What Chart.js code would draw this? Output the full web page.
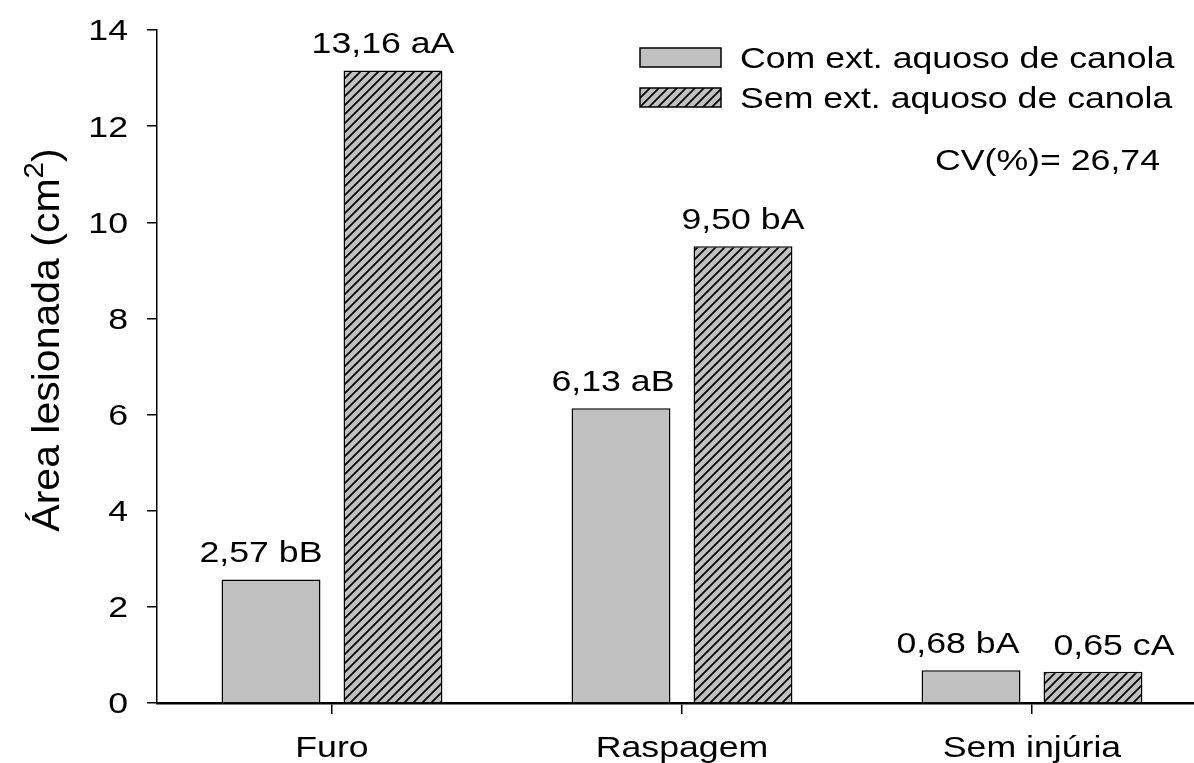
<!DOCTYPE html>
<html>
<head>
<meta charset="utf-8">
<script src="https://cdn.jsdelivr.net/npm/chart.js@4.4.1/dist/chart.umd.min.js"></script>
<style>
  html, body { margin: 0; padding: 0; background: #ffffff; overflow: hidden; }
  #wrap { width: 1207px; height: 763px; }
</style>
</head>
<body>
<div id="wrap"><canvas id="c"></canvas></div>
<script>
// Lesioned area per injury type, with and without aqueous canola extract
const categories = ['Furo', 'Raspagem', 'Sem injúria'];
const seriesNames = ['Com ext. aquoso de canola', 'Sem ext. aquoso de canola'];
const comExtrato = [2.57, 6.13, 0.68];
const semExtrato = [13.16, 9.50, 0.65];
const comLetras = ['bB', 'aB', 'bA'];
const semLetras = ['aA', 'bA', 'cA'];
const yMin = 0, yMax = 14, yStep = 2;
const yTitle = 'Área lesionada (cm';
const yTitleSup = '2';
const cvLabel = 'CV(%)= 26,74';

// horizontal nudges of the value labels so neighbouring labels do not collide
const labelShift = [[-10, -8, -13], [-10, 0, 21]];

const FONT = '"Liberation Sans", Arial, sans-serif';
const TEXT_SIZE = 29;
const TITLE_SIZE = 41;
const STRETCH = 1.23;
const TITLE_STRETCH = 0.95;
const GRAY = '#c0c0c0';

const canvas = document.getElementById('c');
const mainCtx = canvas.getContext('2d');

function makeHatch(ctx) {
  const p = 9;
  const tile = document.createElement('canvas');
  tile.width = p; tile.height = p;
  const g = tile.getContext('2d');
  g.fillStyle = GRAY;
  g.fillRect(0, 0, p, p);
  g.strokeStyle = '#000';
  g.lineWidth = 1.7;
  g.beginPath();
  g.moveTo(-1, p + 1); g.lineTo(p + 1, -1);
  g.moveTo(-2, 2); g.lineTo(2, -2);
  g.moveTo(p - 2, p + 2); g.lineTo(p + 2, p - 2);
  g.stroke();
  return ctx.createPattern(tile, 'repeat');
}
const hatch = makeHatch(mainCtx);

function fmt(v) { return v.toFixed(2).replace('.', ','); }

// text drawn slightly wide, the way the original figure renders it
function stext(ctx, str, x, y, align, size) {
  ctx.save();
  ctx.translate(x, y);
  ctx.scale(STRETCH, 1);
  ctx.font = size + 'px ' + FONT;
  ctx.textAlign = align;
  ctx.textBaseline = 'alphabetic';
  ctx.fillStyle = '#000';
  ctx.fillText(str, 0, 0);
  ctx.restore();
}

const annotations = {
  id: 'annotations',
  afterDraw(chart) {
    const ctx = chart.ctx;
    const ys = chart.scales.y;
    const xs = chart.scales.x;
    const capHalf = TEXT_SIZE * 0.358;

    // y tick labels
    ys.ticks.forEach(t => {
      stext(ctx, String(t.value), ys.right - 29, ys.getPixelForValue(t.value) + capHalf, 'right', TEXT_SIZE);
    });
    // category labels
    xs.getLabels().forEach((lab, i) => {
      stext(ctx, lab, xs.getPixelForValue(i), 757, 'center', TEXT_SIZE);
    });

    // value labels above the bars
    const letters = [comLetras, semLetras];
    chart.data.datasets.forEach((ds, di) => {
      const meta = chart.getDatasetMeta(di);
      meta.data.forEach((bar, i) => {
        stext(ctx, fmt(ds.data[i]) + ' ' + letters[di][i], bar.x + labelShift[di][i], bar.y - 17, 'center', TEXT_SIZE);
      });
    });

    // legend
    const rows = [57.5, 97.5];
    chart.data.datasets.forEach((ds, di) => {
      const cy = rows[di];
      ctx.save();
      ctx.fillStyle = ds.backgroundColor;
      ctx.fillRect(640, cy - 9.5, 81, 19);
      ctx.strokeStyle = '#000';
      ctx.lineWidth = 1.5;
      ctx.strokeRect(640, cy - 9.5, 81, 19);
      ctx.restore();
      stext(ctx, ds.label, 740, cy + capHalf, 'left', TEXT_SIZE);
    });
    stext(ctx, cvLabel, 1160, 160 + capHalf, 'right', TEXT_SIZE);

    // y axis title with superscript
    ctx.save();
    ctx.translate(59, 340);
    ctx.scale(TITLE_STRETCH, 1);
    ctx.rotate(-Math.PI / 2);
    ctx.fillStyle = '#000';
    ctx.textBaseline = 'alphabetic';
    ctx.textAlign = 'left';
    const supSize = TITLE_SIZE * 0.72;
    ctx.font = TITLE_SIZE + 'px ' + FONT;
    const w1 = ctx.measureText(yTitle).width;
    const w3 = ctx.measureText(')').width;
    ctx.font = supSize + 'px ' + FONT;
    const w2 = ctx.measureText(yTitleSup).width;
    let x0 = -(w1 + w2 + w3) / 2;
    ctx.font = TITLE_SIZE + 'px ' + FONT;
    ctx.fillText(yTitle, x0, 0);
    ctx.font = supSize + 'px ' + FONT;
    ctx.fillText(yTitleSup, x0 + w1, -TITLE_SIZE * 0.42);
    ctx.font = TITLE_SIZE + 'px ' + FONT;
    ctx.fillText(')', x0 + w1 + w2, 0);
    ctx.restore();
  }
};

new Chart(canvas, {
  type: 'bar',
  data: {
    labels: categories,
    datasets: [
      { label: seriesNames[0], data: comExtrato, backgroundColor: GRAY, borderColor: '#000', borderWidth: 1.5 },
      { label: seriesNames[1], data: semExtrato, backgroundColor: hatch, borderColor: '#000', borderWidth: 1.5 }
    ]
  },
  options: {
    responsive: true,
    maintainAspectRatio: false,
    animation: false,
    devicePixelRatio: 1,
    categoryPercentage: 0.697,
    barPercentage: 0.811,
    layout: { padding: { top: 30, right: 0, left: 0, bottom: 0 } },
    plugins: { legend: { display: false }, tooltip: { enabled: false } },
    scales: {
      x: {
        offset: true,
        afterFit(s) { s.height = 60; },
        ticks: { display: false },
        grid: { offset: false, drawOnChartArea: false, drawTicks: true, tickLength: 11, color: '#000', lineWidth: 1.5 },
        border: { display: true, color: '#000', width: 2.5 }
      },
      y: {
        min: yMin, max: yMax,
        afterFit(s) { s.width = 157; },
        ticks: { display: false, stepSize: yStep },
        grid: { drawOnChartArea: false, drawTicks: true, tickLength: 10, color: '#000', lineWidth: 1.5 },
        border: { display: true, color: '#000', width: 1.5 }
      }
    }
  },
  plugins: [annotations]
});
</script>
</body>
</html>
